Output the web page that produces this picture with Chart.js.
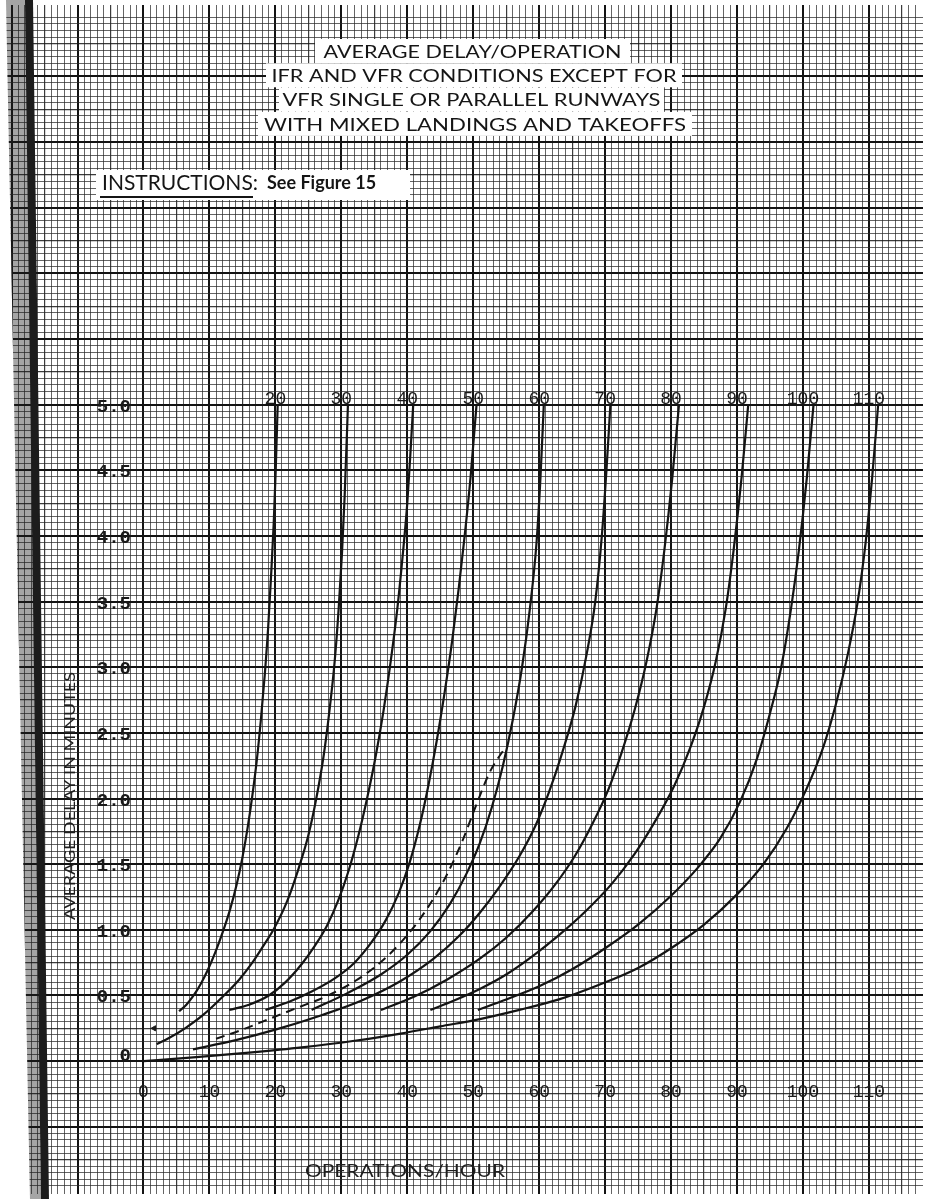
<!DOCTYPE html>
<html>
<head>
<meta charset="utf-8">
<script src="https://cdn.jsdelivr.net/npm/chart.js@4.4.1/dist/chart.umd.min.js"></script>
<style>
  html, body { margin: 0; padding: 0; background: #fff; }
  canvas { display: block; }
</style>
</head>
<body>
<canvas id="chart" width="928" height="1199"></canvas>
<script>
(function () {

  // axis labels printed on the sheet
  var xTicks = [0, 10, 20, 30, 40, 50, 60, 70, 80, 90, 100, 110];
  var yTicks = [0, 0.5, 1.0, 1.5, 2.0, 2.5, 3.0, 3.5, 4.0, 4.5, 5.0];
  var capacities = [20, 30, 40, 50, 60, 70, 80, 90, 100, 110];

  // [operations/hour, average delay in minutes]
  var curve20 = [[5.4, 0.38], [6.5, 0.43], [7.6, 0.5], [8.7, 0.59], [9.8, 0.7], [10.9, 0.83], [12, 0.98], [13.1, 1.15], [14.1, 1.34], [15, 1.55], [15.8, 1.78], [16.5, 2.02], [17.2, 2.3], [17.8, 2.6], [18.4, 2.95], [18.9, 3.3], [19.35, 3.7], [19.75, 4.1], [20.05, 4.5], [20.35, 5.0]];
  var curve30 = [[2, 0.13], [4, 0.18], [6.3, 0.25], [9, 0.35], [12.2, 0.5], [14.5, 0.62], [16.5, 0.75], [18.2, 0.88], [19.7, 1.0], [21.8, 1.22], [23.6, 1.48], [25, 1.72], [26.2, 2.0], [27.3, 2.32], [28.2, 2.67], [29, 3.05], [29.6, 3.45], [30.1, 3.87], [30.5, 4.3], [30.9, 4.85], [31, 5.0]];
  var curve40 = [[13, 0.39], [16, 0.43], [19, 0.5], [21.5, 0.6], [24, 0.74], [26, 0.88], [27.8, 1.03], [29.5, 1.22], [31.1, 1.45], [32.6, 1.72], [33.9, 2.0], [35.2, 2.32], [36.4, 2.67], [37.5, 3.05], [38.5, 3.45], [39.3, 3.85], [40, 4.25], [40.5, 4.65], [40.9, 5.0]];
  var curve50 = [[18.5, 0.39], [22, 0.45], [25.5, 0.53], [29, 0.63], [32, 0.75], [34.5, 0.9], [36.7, 1.07], [38.7, 1.28], [40.4, 1.52], [41.9, 1.8], [43.2, 2.1], [44.5, 2.45], [45.7, 2.82], [46.8, 3.2], [47.8, 3.6], [48.7, 4.0], [49.6, 4.45], [50.5, 5.0]];
  var curve60 = [[25.5, 0.39], [31, 0.52], [36, 0.66], [40, 0.81], [43.5, 0.99], [46.5, 1.2], [49, 1.43], [51, 1.66], [52.8, 1.93], [54.5, 2.25], [56, 2.6], [57.4, 3.0], [58.6, 3.45], [59.6, 3.95], [60.2, 4.45], [60.7, 5.0]];
  var curve70 = [[7.5, 0.09], [14, 0.16], [20, 0.24], [27, 0.35], [33, 0.46], [39, 0.61], [44, 0.78], [48, 0.96], [51, 1.13], [54, 1.33], [57, 1.56], [59.5, 1.8], [61.5, 2.05], [63.5, 2.35], [65.5, 2.7], [67.2, 3.1], [68.5, 3.5], [69.5, 4.0], [70.2, 4.5], [70.8, 5.0]];
  var curve80 = [[36, 0.39], [41, 0.49], [46, 0.62], [51, 0.78], [55, 0.94], [59, 1.14], [62.5, 1.35], [65.5, 1.57], [68, 1.8], [70.5, 2.07], [72.5, 2.35], [74.5, 2.68], [76.3, 3.05], [77.8, 3.45], [79, 3.9], [80.2, 4.45], [81.2, 5.0]];
  var curve90 = [[43.5, 0.39], [47, 0.46], [51, 0.55], [55, 0.66], [59, 0.8], [63, 0.96], [67, 1.14], [71, 1.35], [74.5, 1.58], [77.5, 1.82], [80.5, 2.1], [83, 2.4], [85, 2.7], [86.8, 3.05], [88.3, 3.45], [89.5, 3.9], [90.7, 4.45], [91.7, 5.0]];
  var curve100 = [[50.7, 0.39], [55, 0.47], [60, 0.57], [65, 0.7], [70, 0.86], [75, 1.04], [80, 1.26], [84, 1.47], [87.5, 1.7], [90.5, 1.98], [93, 2.3], [95, 2.65], [96.7, 3.0], [98.2, 3.45], [99.4, 3.9], [100.6, 4.45], [101.6, 5.0]];
  var curve110 = [[0, 0], [8, 0.03], [16, 0.065], [24, 0.105], [32, 0.155], [39, 0.21], [45, 0.265], [51, 0.32], [57, 0.39], [63, 0.47], [69, 0.58], [75, 0.71], [80, 0.86], [85, 1.04], [90, 1.27], [94, 1.5], [97.5, 1.77], [100.5, 2.07], [103, 2.38], [105, 2.72], [106.8, 3.1], [108.3, 3.5], [109.5, 3.95], [110.5, 4.45], [111.4, 5.0]];
  var dashedCurve = [[11, 0.17], [15, 0.24], [19, 0.32], [23, 0.4], [28, 0.5], [33, 0.64], [37, 0.8], [40.5, 0.99], [43.5, 1.2], [46, 1.42], [48.3, 1.67], [50.3, 1.93], [52.5, 2.2], [55, 2.4]];
  var arrowMark = [[1.6, 0.25]];

  var titleLines = [
    'AVERAGE DELAY/OPERATION',
    'IFR AND VFR CONDITIONS EXCEPT FOR',
    'VFR SINGLE OR PARALLEL RUNWAYS',
    'WITH MIXED LANDINGS AND TAKEOFFS'
  ];

  var ctx = document.getElementById('chart').getContext('2d');

  var toPoints = function (rows) {
    return rows.map(function (r) { return { x: r[0], y: r[1] }; });
  };

  var solid = function (rows) {
    return {
      data: toPoints(rows),
      borderColor: '#141414',
      borderWidth: 2.2,
      showLine: true,
      pointRadius: 0,
      cubicInterpolationMode: 'monotone'
    };
  };

  var curves = [curve20, curve30, curve40, curve50, curve60, curve70, curve80, curve90, curve100, curve110];
  var datasets = curves.map(solid);
  var dashed = solid(dashedCurve);
  dashed.borderDash = [9, 6];
  dashed.borderWidth = 2;
  datasets.push(dashed);
  datasets.push({
    data: toPoints(arrowMark),
    showLine: false,
    pointStyle: 'triangle',
    rotation: -90,
    pointRadius: 3,
    backgroundColor: '#1a1a1a',
    borderColor: '#1a1a1a'
  });

  // graph paper rulings: fine every cell, medium every 5, heavy every 10
  var ruling = function (step) {
    var kind = function (v) {
      var k = v / step, n = Math.round(k);
      if (Math.abs(k - n) > 1e-3) return 0;
      n = Math.abs(n);
      if (n % 10 === 0) return 3;
      if (n % 5 === 0) return 2;
      return 1;
    };
    return {
      drawTicks: false,
      color: function (c) {
        return ['rgba(0,0,0,0)', 'rgba(40,40,40,0.72)', 'rgba(25,25,25,0.85)', '#131313'][kind(c.tick.value)];
      },
      lineWidth: function (c) {
        return [0, 1, 1.2, 2][kind(c.tick.value)];
      }
    };
  };

  var centered = function (c, text, x, y, width, font) {
    c.font = font;
    var w = c.measureText(text).width;
    c.save();
    c.translate(x, y);
    if (width) c.scale(width / w, 1);
    c.fillText(text, 0, 0);
    c.restore();
  };

  var sheet = {
    id: 'sheet',
    beforeDatasetsDraw: function (chart) {
      var c = chart.ctx, H = chart.height;
      c.save();
      // binding edge on the left of the sheet
      c.fillStyle = '#fff';
      c.beginPath();
      c.moveTo(0, 0); c.lineTo(6, 0); c.lineTo(30, H); c.lineTo(0, H);
      c.closePath(); c.fill();
      c.fillStyle = 'rgba(30,30,30,0.4)';
      c.beginPath();
      c.moveTo(6, 0); c.lineTo(26, 0); c.lineTo(41, H); c.lineTo(30, H);
      c.closePath(); c.fill();
      c.strokeStyle = '#1c1c1c';
      c.lineWidth = 8;
      c.beginPath();
      c.moveTo(29, 0); c.lineTo(45, H);
      c.stroke();
      c.restore();
    },
    afterDatasetsDraw: function (chart) {
      var c = chart.ctx, xs = chart.scales.x, ys = chart.scales.y;
      c.save();
      c.fillStyle = '#1a1a1a';

      // tick labels written on the grid
      c.textBaseline = 'alphabetic';
      c.textAlign = 'right';
      c.font = 'bold 19px "Liberation Mono"';
      yTicks.forEach(function (v) {
        var lift = v === 0 ? 0 : 7;
        c.fillText(v === 0 ? '0' : v.toFixed(1), 131, ys.getPixelForValue(v) + lift);
      });
      c.textAlign = 'center';
      c.textBaseline = 'middle';
      c.font = '18px "Liberation Mono"';
      xTicks.forEach(function (v) {
        c.fillText(String(v), xs.getPixelForValue(v), ys.getPixelForValue(-0.24));
      });
      capacities.forEach(function (v) {
        c.fillText(String(v), xs.getPixelForValue(v), ys.getPixelForValue(5.0) - 5);
      });

      // heading, each line on its own white strip
      var boxes = [[315, 630], [266, 682], [279, 664], [258, 692]];
      var widths = [298, 405, 378, 422];
      titleLines.forEach(function (t, i) {
        var cy = 51 + i * 24.3;
        c.fillStyle = '#fff';
        c.fillRect(boxes[i][0], cy - 12, boxes[i][1] - boxes[i][0], 24);
        c.fillStyle = '#151515';
        centered(c, t, (boxes[i][0] + boxes[i][1]) / 2, cy + 1, widths[i], '18px Lato');
      });

      // instructions note
      c.fillStyle = '#fff';
      c.fillRect(96, 170, 314, 30);
      c.fillStyle = '#151515';
      c.textAlign = 'left';
      c.font = '21px Lato';
      c.fillText('INSTRUCTIONS:', 102, 183);
      c.font = 'bold 18px Lato';
      c.fillText('See Figure 15', 267, 183);
      c.fillRect(100, 196, 153, 2);

      // axis titles
      c.textAlign = 'center';
      c.fillStyle = '#1e1e1e';
      centered(c, 'OPERATIONS/HOUR', 405, 1172, 200, '17px Lato');
      c.save();
      c.translate(70, 796);
      c.rotate(-Math.PI / 2);
      centered(c, 'AVERAGE DELAY IN MINUTES', 0, 0, 248, '16px Lato');
      c.restore();
      c.restore();
    }
  };

  new Chart(ctx, {
    type: 'scatter',
    data: { datasets: datasets },
    options: {
      responsive: false,
      animation: false,
      devicePixelRatio: 1,
      layout: { padding: 0 },
      plugins: { legend: { display: false }, tooltip: { enabled: false } },
      scales: {
        x: {
          type: 'linear', min: -21, max: 118.2,
          ticks: { display: false, stepSize: 1 },
          border: { display: false },
          grid: ruling(1)
        },
        y: {
          type: 'linear', min: -1.012, max: 8.044,
          ticks: { display: false, stepSize: 0.05 },
          border: { display: false },
          grid: ruling(0.05)
        }
      }
    },
    plugins: [sheet]
  });

})();
</script>
</body>
</html>
